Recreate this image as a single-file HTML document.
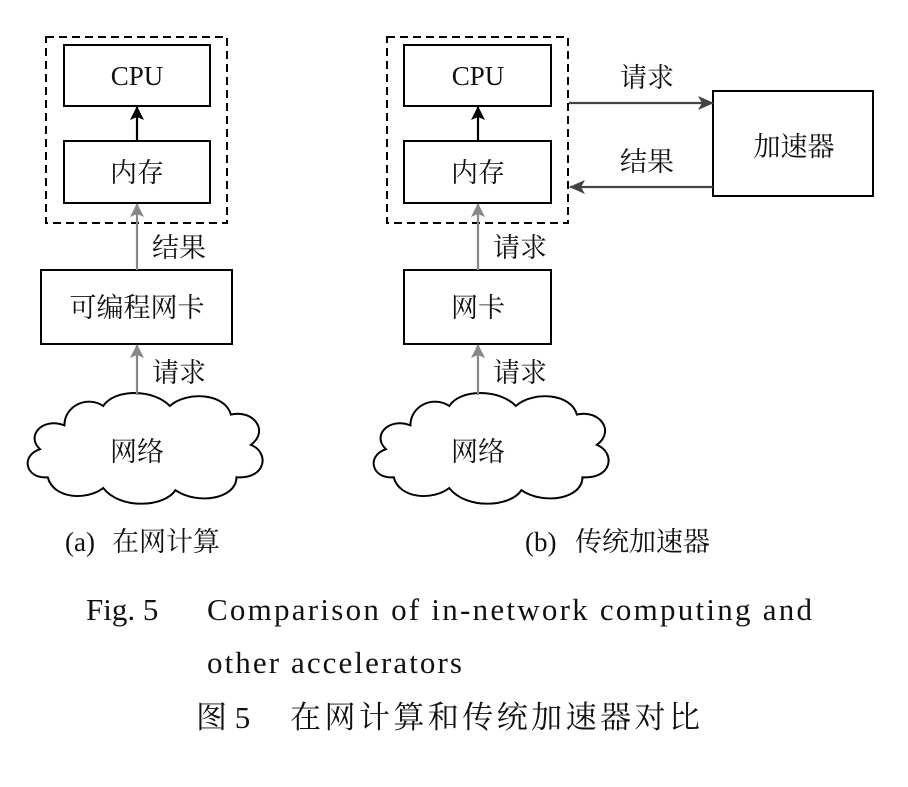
<!DOCTYPE html>
<html><head><meta charset="utf-8"><style>
body{margin:0;background:#fff;}
svg text{font-family:"Liberation Serif","Noto Serif CJK SC",serif;fill:#111;}
</style></head><body>
<svg width="908" height="782" viewBox="0 0 908 782" xmlns="http://www.w3.org/2000/svg">
<defs>
<marker id="ab" markerWidth="12" markerHeight="14" refX="13" refY="7" orient="auto" markerUnits="userSpaceOnUse"><path d="M0,0 L14,7 L0,14 L3,7 z" fill="#000"/></marker>
<marker id="ag" markerWidth="14" markerHeight="14" refX="13" refY="7" orient="auto" markerUnits="userSpaceOnUse"><path d="M0,0 L14,7 L0,14 L3,7 z" fill="#888"/></marker>
<marker id="ad" markerWidth="16" markerHeight="14" refX="15" refY="7" orient="auto" markerUnits="userSpaceOnUse"><path d="M0,0 L16,7 L0,14 L4,7 z" fill="#444"/></marker>
<path id="cloud" d="M40,30 C20,22 5,40 18,52 C0,58 5,80 25,78 C30,98 60,100 75,88 C90,108 130,106 140,90 C160,104 195,98 195,78 C222,80 225,55 208,48 C225,35 210,15 190,20 C185,0 150,-2 135,12 C120,-4 85,-4 75,12 C60,2 40,12 40,30 Z"/>
</defs>
<g fill="none" stroke="#000" stroke-width="2">
<rect x="46" y="37" width="181" height="186" stroke-dasharray="8,5"/>
<rect x="64" y="45" width="146" height="61"/>
<rect x="64" y="141" width="146" height="62"/>
<rect x="41" y="270" width="191" height="74"/>
<rect x="387" y="37" width="181" height="186" stroke-dasharray="8,5"/>
<rect x="404" y="45" width="147" height="61"/>
<rect x="404" y="141" width="147" height="62"/>
<rect x="404" y="270" width="147" height="74"/>
<rect x="713" y="91" width="160" height="105"/>
<use href="#cloud" transform="translate(20,393) scale(1.11,1.08)" stroke-width="1.8"/>
<use href="#cloud" transform="translate(366,393) scale(1.11,1.08)" stroke-width="1.8"/>
</g>
<g stroke-width="2.2" fill="none">
<line x1="137" y1="141" x2="137" y2="107" stroke="#000" marker-end="url(#ab)"/>
<line x1="478" y1="141" x2="478" y2="107" stroke="#000" marker-end="url(#ab)"/>
<line x1="137" y1="270" x2="137" y2="204" stroke="#888" marker-end="url(#ag)"/>
<line x1="137" y1="395" x2="137" y2="345" stroke="#888" marker-end="url(#ag)"/>
<line x1="478" y1="270" x2="478" y2="204" stroke="#888" marker-end="url(#ag)"/>
<line x1="478" y1="395" x2="478" y2="345" stroke="#888" marker-end="url(#ag)"/>
<line x1="569" y1="103" x2="713" y2="103" stroke="#444" marker-end="url(#ad)"/>
<line x1="713" y1="187" x2="570" y2="187" stroke="#444" marker-end="url(#ad)"/>
</g>
<g font-size="27" text-anchor="middle">
<text x="137" y="85">CPU</text>
<text x="137" y="182">内存</text>
<text x="137" y="317">可编程网卡</text>
<text x="137" y="461">网络</text>
<text x="179" y="257">结果</text>
<text x="179" y="382">请求</text>
<text x="478" y="85">CPU</text>
<text x="478" y="182">内存</text>
<text x="478" y="317">网卡</text>
<text x="478" y="461">网络</text>
<text x="520" y="257">请求</text>
<text x="520" y="382">请求</text>
<text x="647" y="87">请求</text>
<text x="647" y="171">结果</text>
<text x="794" y="156">加速器</text>
</g>
<g font-size="27">
<text x="65" y="551">(a)</text>
<text x="112" y="551">在网计算</text>
<text x="525" y="551">(b)</text>
<text x="575" y="551">传统加速器</text>
</g>
<g font-size="31">
<text x="86" y="620">Fig. 5</text>
<text x="207" y="620" textLength="605">Comparison of in-network computing and</text>
<text x="207" y="673" textLength="255">other accelerators</text>
<text x="196" y="728">图 5</text>
<text x="290" y="728" textLength="410">在网计算和传统加速器对比</text>
</g>
</svg>
</body></html>
